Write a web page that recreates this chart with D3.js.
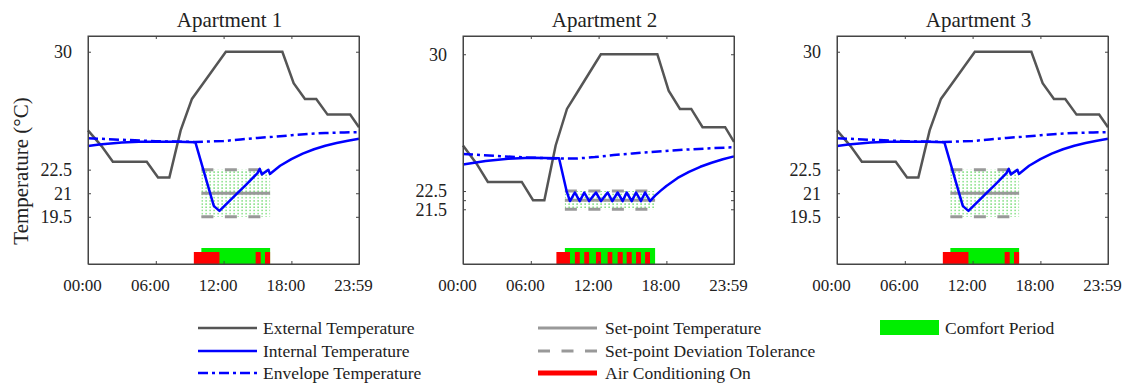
<!DOCTYPE html>
<html>
<head>
<meta charset="utf-8">
<script src="https://cdn.jsdelivr.net/npm/d3@7"></script>
<style>
  body { margin: 0; background: #fff; }
  text { font-family: "Liberation Serif", "Times New Roman", serif; fill: #222; }
</style>
</head>
<body>
<div id="viz-container"></div>
<script>
// ---- data (times as HH:MM, temperatures in °C) ----
const apartments = ["Apartment 1", "Apartment 2", "Apartment 3"];
const xTicks = ["00:00", "06:00", "12:00", "18:00", "23:59"];

const yTicksA = [19.5, 21, 22.5, 30];
const yTickLabelsA = ["19.5", "21", "22.5", "30"];
const yTicksB = [21.5, 22, 22.5, 30];
const yTickLabelsB = ["21.5", "", "22.5", "30"];

const externalTemp = [
  ["00:00", 25.0], ["01:12", 24.0], ["02:12", 23.0], ["03:12", 23.0], ["04:12", 23.0],
  ["05:12", 23.0], ["06:12", 22.0], ["07:12", 22.0], ["08:12", 25.0], ["09:12", 27.0],
  ["10:12", 28.0], ["11:12", 29.0], ["12:12", 30.0], ["13:12", 30.0], ["14:12", 30.0],
  ["15:12", 30.0], ["16:12", 30.0], ["17:12", 30.0], ["18:12", 28.0], ["19:12", 27.0],
  ["20:12", 27.0], ["21:12", 26.0], ["22:12", 26.0], ["23:12", 26.0], ["23:59", 25.2]
];

// apartments 1 and 3 behave the same
const internalA = [
  ["00:00", 24.00], ["01:00", 24.10], ["02:00", 24.17], ["03:00", 24.22], ["04:30", 24.27],
  ["06:00", 24.28], ["08:00", 24.27], ["09:30", 24.25], ["11:08", 20.20], ["11:15", 20.12],
  ["11:38", 19.88], ["13:00", 20.85], ["14:00", 21.55], ["15:00", 22.28], ["15:12", 22.55],
  ["15:23", 22.20], ["15:58", 22.49], ["16:06", 22.23], ["17:00", 22.75], ["18:00", 23.17],
  ["19:00", 23.52], ["20:00", 23.80], ["21:00", 24.02], ["22:00", 24.20], ["23:00", 24.34],
  ["23:59", 24.46]
];
const envelopeA = [
  ["00:00", 24.50], ["03:00", 24.40], ["06:00", 24.31], ["09:30", 24.26], ["12:00", 24.32],
  ["13:30", 24.42], ["15:00", 24.52], ["16:40", 24.60], ["18:00", 24.69], ["19:40", 24.78],
  ["21:00", 24.83], ["22:40", 24.87], ["23:59", 24.89]
];
const acOnA = [["09:22", "11:38"], ["14:50", "15:17"], ["15:40", "16:07"]];
const comfortA = ["10:02", "16:07"];
const setpointA = 21, toleranceA = 1.5;

const internalB = [
  ["00:00", 23.95], ["02:00", 24.15], ["04:00", 24.27], ["06:00", 24.32], ["08:30", 24.30],
  ["09:10", 22.50], ["09:28", 21.95], ["09:54", 22.42], ["10:20", 21.95], ["10:44", 22.42],
  ["11:10", 21.95], ["11:46", 22.42], ["12:13", 21.95], ["12:48", 22.42], ["13:13", 21.95],
  ["13:41", 22.42], ["14:08", 21.95], ["14:29", 22.42], ["14:56", 21.95], ["15:19", 22.42],
  ["15:45", 21.95], ["16:07", 22.42], ["16:33", 21.95], ["17:00", 22.25], ["17:30", 22.52],
  ["18:00", 22.78], ["19:00", 23.22], ["20:00", 23.55], ["21:00", 23.83], ["22:00", 24.05],
  ["23:00", 24.24], ["23:59", 24.40]
];
const envelopeB = [
  ["00:00", 24.53], ["03:00", 24.42], ["06:00", 24.33], ["08:30", 24.28], ["10:00", 24.28],
  ["11:40", 24.36], ["13:20", 24.47], ["15:00", 24.56], ["16:40", 24.64], ["18:20", 24.72],
  ["20:00", 24.78], ["22:00", 24.85], ["23:59", 24.90]
];
const acOnB = [
  ["08:16", "09:28"], ["09:54", "10:20"], ["10:44", "11:10"], ["11:46", "12:13"], ["12:48", "13:13"],
  ["13:41", "14:08"], ["14:29", "14:56"], ["15:19", "15:45"], ["16:07", "16:33"]
];
const comfortB = ["09:01", "17:00"];
const setpointB = 22, toleranceB = 0.5;

const legendItems = [
  "External Temperature", "Internal Temperature", "Envelope Temperature",
  "Set-point Temperature", "Set-point Deviation Tolerance", "Air Conditioning On",
  "Comfort Period"
];

// ---- helpers ----
const toMin = t => { const [h, m] = t.split(":").map(Number); return h * 60 + m; };

const panels = [
  { title: apartments[0], left: 88, yDomain: [16.5, 31], ticks: yTicksA, labels: yTickLabelsA,
    internal: internalA, envelope: envelopeA, ac: acOnA, comfort: comfortA, sp: setpointA, tol: toleranceA },
  { title: apartments[1], left: 463, yDomain: [18.5, 31], ticks: yTicksB, labels: yTickLabelsB,
    internal: internalB, envelope: envelopeB, ac: acOnB, comfort: comfortB, sp: setpointB, tol: toleranceB },
  { title: apartments[2], left: 837, yDomain: [16.5, 31], ticks: yTicksA, labels: yTickLabelsA,
    internal: internalA, envelope: envelopeA, ac: acOnA, comfort: comfortA, sp: setpointA, tol: toleranceA }
];

const plotTop = 36, plotBottom = 264, plotW = 271, plotH = plotBottom - plotTop;
const blue = "#0000ff", darkGray = "#555555", spGray = "#999999";
const red = "#ff0000", green = "#00ee00";

const svg = d3.select("#viz-container")
  .append("svg")
  .attr("width", 1126)
  .attr("height", 383);

svg.append("rect").attr("width", 1126).attr("height", 383).attr("fill", "#fff");

// dotted fill for comfort band
svg.append("defs").append("pattern")
  .attr("id", "dots")
  .attr("patternUnits", "userSpaceOnUse")
  .attr("width", 4).attr("height", 3.2)
  .append("rect")
  .attr("x", 1.5).attr("y", 1)
  .attr("width", 1.2).attr("height", 1.4)
  .attr("fill", "#33cc33")
  .attr("opacity", 0.85);

panels.forEach(p => {
  const g = svg.append("g").attr("transform", `translate(${p.left},${plotTop})`);

  const x = d3.scaleLinear().domain([0, 1439]).range([0, plotW]);
  const y = d3.scaleLinear().domain(p.yDomain).range([plotH, 0]);

  const line = d3.line()
    .x(d => x(toMin(d[0])))
    .y(d => y(d[1]));

  // 1) comfort band + set-point lines
  const c0 = x(toMin(p.comfort[0])), c1 = x(toMin(p.comfort[1]));
  g.append("rect")
    .attr("x", c0).attr("y", y(p.sp + p.tol))
    .attr("width", c1 - c0).attr("height", y(p.sp - p.tol) - y(p.sp + p.tol))
    .attr("fill", "url(#dots)");

  g.append("line")
    .attr("x1", c0).attr("x2", c1)
    .attr("y1", y(p.sp)).attr("y2", y(p.sp))
    .attr("stroke", spGray).attr("stroke-width", 3);

  [p.sp + p.tol, p.sp - p.tol].forEach(v => {
    g.append("line")
      .attr("x1", c0).attr("x2", c1)
      .attr("y1", y(v)).attr("y2", y(v))
      .attr("stroke", spGray).attr("stroke-width", 3)
      .attr("stroke-dasharray", "12,11.5");
  });

  // 2) temperature lines
  g.append("path").datum(externalTemp)
    .attr("d", line).attr("fill", "none")
    .attr("stroke", darkGray).attr("stroke-width", 2.5);

  g.append("path").datum(p.internal)
    .attr("d", line).attr("fill", "none")
    .attr("stroke", blue).attr("stroke-width", 2.5)
    .attr("stroke-linejoin", "round");

  g.append("path").datum(p.envelope)
    .attr("d", line).attr("fill", "none")
    .attr("stroke", blue).attr("stroke-width", 2.5)
    .attr("stroke-dasharray", "10,4,3,4");

  // 3) comfort period and AC bars along the bottom
  g.append("rect")
    .attr("x", c0).attr("y", plotH - 16)
    .attr("width", c1 - c0).attr("height", 16)
    .attr("fill", green);

  g.selectAll("rect.ac")
    .data(p.ac)
    .enter().append("rect")
    .attr("class", "ac")
    .attr("x", d => x(toMin(d[0])))
    .attr("y", plotH - 12)
    .attr("width", d => x(toMin(d[1])) - x(toMin(d[0])))
    .attr("height", 12)
    .attr("fill", red);

  // 4) axes, ticks inward on all four sides
  const xt = xTicks.map(toMin);
  const ax = g.append("g")
    .attr("transform", `translate(0,${plotH})`)
    .call(d3.axisBottom(x).tickValues(xt).tickFormat((d, i) => xTicks[i])
      .tickSizeInner(-3).tickSizeOuter(0).tickPadding(15));
  g.append("g")
    .call(d3.axisTop(x).tickValues(xt).tickFormat("")
      .tickSizeInner(-3).tickSizeOuter(0));
  const ay = g.append("g")
    .call(d3.axisLeft(y).tickValues(p.ticks).tickFormat((d, i) => p.labels[i])
      .tickSizeInner(-3).tickSizeOuter(0).tickPadding(16));
  g.append("g")
    .attr("transform", `translate(${plotW},0)`)
    .call(d3.axisRight(y).tickValues(p.ticks).tickFormat("")
      .tickSizeInner(-3).tickSizeOuter(0));

  g.selectAll(".domain").attr("stroke", "#444");
  g.selectAll(".tick line").attr("stroke", "#444");
  ax.selectAll("text").attr("font-size", 17).attr("fill", "#222").attr("dx", -6);
  ay.selectAll("text").attr("font-size", 18).attr("fill", "#222");

  g.append("rect")
    .attr("width", plotW).attr("height", plotH)
    .attr("fill", "none").attr("stroke", "#444").attr("stroke-width", 1);

  // 5) title
  svg.append("text")
    .attr("x", p.left + plotW / 2 + 6)
    .attr("y", 27)
    .attr("text-anchor", "middle")
    .attr("font-size", 21)
    .text(p.title);
});

// y label (first panel only)
svg.append("text")
  .attr("transform", "translate(28,171) rotate(-90)")
  .attr("text-anchor", "middle")
  .attr("font-size", 21)
  .text("Temperature (°C)");

// ---- legend ----
const rows = [328, 351, 373];
const leg = svg.append("g");

function legLine(x1, row, stroke, w, dash) {
  leg.append("line")
    .attr("x1", x1).attr("x2", x1 + 59)
    .attr("y1", rows[row]).attr("y2", rows[row])
    .attr("stroke", stroke).attr("stroke-width", w)
    .attr("stroke-dasharray", dash || null);
}
function legText(x, row, label) {
  leg.append("text")
    .attr("x", x).attr("y", rows[row])
    .attr("dy", "0.35em")
    .attr("font-size", 17.5)
    .text(label);
}

legLine(198, 0, darkGray, 2.5);
legLine(198, 1, blue, 2.5);
legLine(198, 2, blue, 2.5, "10,4,3,4");
legText(263, 0, legendItems[0]);
legText(263, 1, legendItems[1]);
legText(263, 2, legendItems[2]);

legLine(538, 0, spGray, 3);
legLine(538, 1, spGray, 3, "12,11.5");
legLine(538, 2, red, 5);
legText(605, 0, legendItems[3]);
legText(605, 1, legendItems[4]);
legText(605, 2, legendItems[5]);

leg.append("rect")
  .attr("x", 880).attr("y", 320)
  .attr("width", 59).attr("height", 15)
  .attr("fill", green);
legText(945, 0, legendItems[6]);
</script>
</body>
</html>
